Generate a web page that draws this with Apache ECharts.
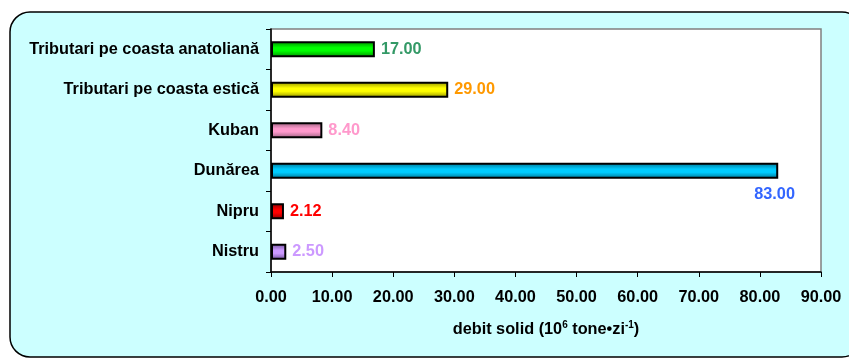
<!DOCTYPE html>
<html>
<head>
<meta charset="utf-8">
<script src="https://cdn.jsdelivr.net/npm/echarts@6/dist/echarts.min.js"></script>
<style>
  html, body { margin: 0; padding: 0; background: #ffffff; }
  #chart { width: 849px; height: 358px; }
</style>
</head>
<body>
<div id="chart"></div>
<script>
// Rivers feeding the Black Sea: solid discharge
const categories = [
  'Tributari pe coasta anatoliană',
  'Tributari pe coasta estică',
  'Kuban',
  'Dunărea',
  'Nipru',
  'Nistru'
];
const values = [17.00, 29.00, 8.40, 83.00, 2.12, 2.50];

// bar fill (edge shade, centre colour) and value label colour per river
const barEdge   = ['#008a00', '#8f8f00', '#99607d', '#00708f', '#8a0000', '#6f5299'];
const barCentre = ['#00ff00', '#ffff00', '#ff99cc', '#00ccff', '#ff0000', '#cc99ff'];
const labelColours = ['#339966', '#ff9900', '#ff99cc', '#3366ff', '#ff0000', '#cc99ff'];

const xTicks = { min: 0, max: 90, interval: 10 };
const FONT = '"Liberation Sans", Arial, sans-serif';
const FS = 16.3;

function cylinder(i) {
  return new echarts.graphic.LinearGradient(0, 0, 0, 1, [
    { offset: 0, color: barEdge[i] },
    { offset: 0.4, color: barCentre[i] },
    { offset: 0.6, color: barCentre[i] },
    { offset: 1, color: barEdge[i] }
  ]);
}

const barData = values.map((v, i) => {
  const item = {
    value: v,
    itemStyle: { color: cylinder(i) },
    label: { color: labelColours[i] }
  };
  if (categories[i] === 'Dunărea') {
    // long bar: value printed under its end
    item.label.offset = [-30, 24];
  }
  return item;
});

const chart = echarts.init(document.getElementById('chart'), null, { renderer: 'canvas' });
chart.setOption({
  animation: false,
  backgroundColor: '#ffffff',
  textStyle: { fontFamily: FONT },
  graphic: [{
    type: 'rect',
    z: -10,
    silent: true,
    shape: { x: 10, y: 12, width: 852, height: 345, r: 20 },
    style: { fill: '#ccffff', stroke: '#000000', lineWidth: 1.5 }
  }],
  grid: {
    left: 271, top: 29, right: 28, bottom: 86,
    show: true,
    backgroundColor: '#ffffff',
    borderColor: '#808080',
    borderWidth: 1.5
  },
  xAxis: {
    type: 'value',
    min: xTicks.min, max: xTicks.max, interval: xTicks.interval,
    axisLine: { show: true, lineStyle: { color: '#000', width: 1.5 } },
    axisTick: { show: true, length: 5, lineStyle: { color: '#000', width: 1 } },
    splitLine: { show: false },
    axisLabel: {
      margin: 18,
      color: '#000', fontWeight: 'bold', fontSize: FS, fontFamily: FONT,
      formatter: v => v.toFixed(2)
    },
    name: '{a|debit solid (10}{s|6}{a| tone•zi}{s|-1}{a|)}',
    nameLocation: 'middle',
    nameGap: 48,
    nameTextStyle: {
      rich: {
        a: { fontSize: FS, fontWeight: 'bold', color: '#000', fontFamily: FONT, lineHeight: 18, verticalAlign: 'bottom' },
        s: { fontSize: 10, fontWeight: 'bold', color: '#000', fontFamily: FONT, lineHeight: 18, verticalAlign: 'top' }
      }
    }
  },
  yAxis: {
    type: 'category',
    data: categories,
    inverse: true,
    axisLine: { show: true, lineStyle: { color: '#000', width: 1.5 } },
    axisTick: { show: true, length: 5, lineStyle: { color: '#000', width: 1 } },
    axisLabel: {
      margin: 12,
      color: '#000', fontWeight: 'bold', fontSize: FS, fontFamily: FONT
    }
  },
  series: [{
    type: 'bar',
    data: barData,
    barWidth: 16,
    itemStyle: { borderColor: '#000', borderWidth: 2 },
    label: {
      show: true,
      position: 'right',
      distance: 6,
      fontWeight: 'bold',
      fontSize: FS,
      fontFamily: FONT,
      formatter: p => p.value.toFixed(2)
    }
  }]
});
</script>
</body>
</html>
